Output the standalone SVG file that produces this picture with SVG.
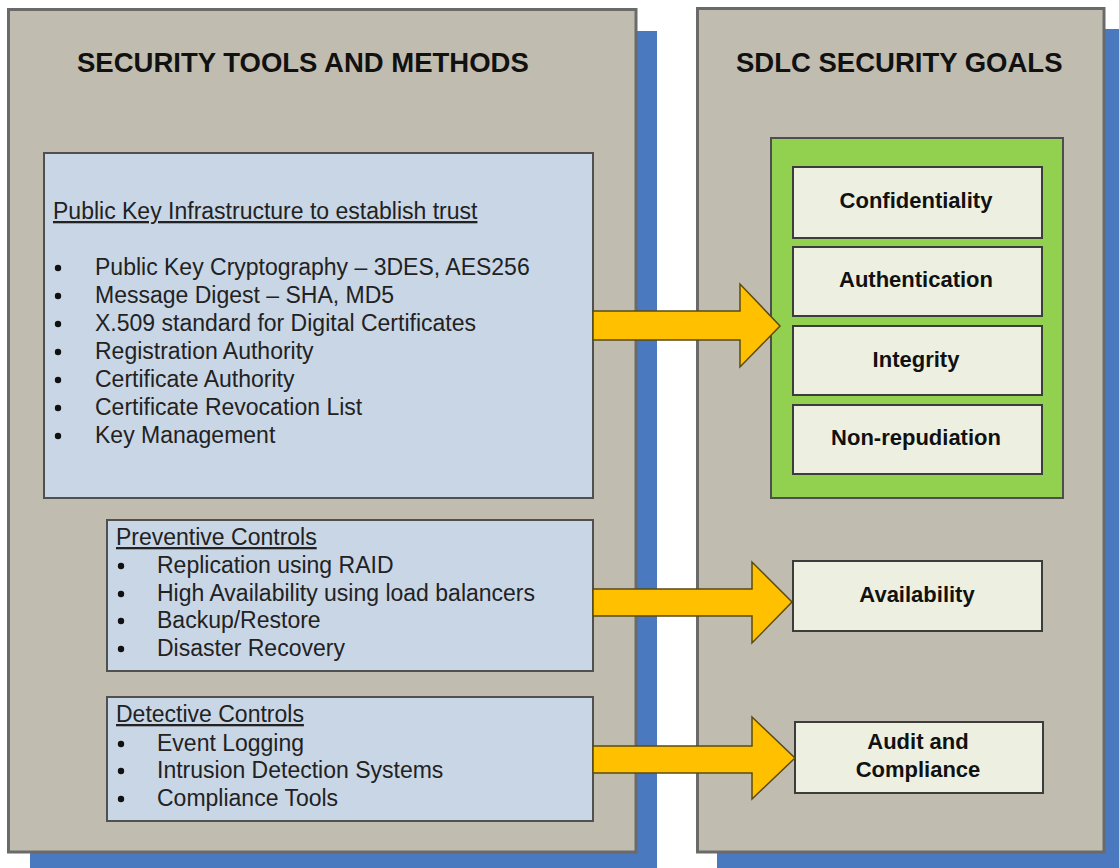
<svg xmlns="http://www.w3.org/2000/svg" width="1119" height="868" viewBox="0 0 1119 868">
<defs>
<style>
.shadow{fill:#4A79C0}
.panel{fill:#C0BDB0;stroke:#6A6A6A;stroke-width:3}
.tbox{fill:#C9D6E6;stroke:#505050;stroke-width:2}
.green{fill:#92D050;stroke:#4E4E4E;stroke-width:2}
.goal{fill:#EDF0E0;stroke:#3C3C3C;stroke-width:2}
.arrow{fill:#FFC000;stroke:#5A4A10;stroke-width:1.5;stroke-linejoin:miter}
.title{font-family:"Liberation Sans",Arial,sans-serif;font-weight:bold;font-size:27.5px;fill:#111}
.body{font-family:"Liberation Sans",Arial,sans-serif;font-size:23px;fill:#222}
.hdr{text-decoration:underline}
.gtxt{font-family:"Liberation Sans",Arial,sans-serif;font-weight:bold;font-size:22px;fill:#111;text-anchor:middle}
.dot{fill:#111}
</style>
</defs>
<rect width="1119" height="868" fill="#FFFFFF"/>

<g id="left-panel">
<rect class="shadow" x="30" y="31" width="627" height="840"/>
<rect class="panel" x="8.5" y="9.5" width="627.5" height="842.5"/>
<text class="title" x="77" y="72">SECURITY TOOLS AND METHODS</text>
</g>

<g id="right-panel">
<rect class="shadow" x="717" y="29" width="405" height="842"/>
<rect class="panel" x="697.5" y="8.5" width="406.5" height="843.5"/>
<text class="title" x="736" y="72">SDLC SECURITY GOALS</text>
</g>

<g id="pki">
<rect class="tbox" x="44" y="153" width="549" height="345"/>
<text class="body hdr" x="53" y="219">Public Key Infrastructure to establish trust</text>
<circle class="dot" cx="58" cy="268" r="3.2"/>
<circle class="dot" cx="58" cy="296" r="3.2"/>
<circle class="dot" cx="58" cy="324" r="3.2"/>
<circle class="dot" cx="58" cy="352" r="3.2"/>
<circle class="dot" cx="58" cy="380" r="3.2"/>
<circle class="dot" cx="58" cy="408" r="3.2"/>
<circle class="dot" cx="58" cy="436" r="3.2"/>
<text class="body" x="95" y="275">Public Key Cryptography – 3DES, AES256</text>
<text class="body" x="95" y="303">Message Digest – SHA, MD5</text>
<text class="body" x="95" y="331">X.509 standard for Digital Certificates</text>
<text class="body" x="95" y="359">Registration Authority</text>
<text class="body" x="95" y="387">Certificate Authority</text>
<text class="body" x="95" y="415">Certificate Revocation List</text>
<text class="body" x="95" y="443">Key Management</text>
</g>

<g id="preventive">
<rect class="tbox" x="107" y="520" width="486" height="151"/>
<text class="body hdr" x="116" y="545">Preventive Controls</text>
<circle class="dot" cx="121" cy="566" r="3.2"/>
<circle class="dot" cx="121" cy="594" r="3.2"/>
<circle class="dot" cx="121" cy="621" r="3.2"/>
<circle class="dot" cx="121" cy="649" r="3.2"/>
<text class="body" x="157" y="573">Replication using RAID</text>
<text class="body" x="157" y="601">High Availability using load balancers</text>
<text class="body" x="157" y="628">Backup/Restore</text>
<text class="body" x="157" y="656">Disaster Recovery</text>
</g>

<g id="detective">
<rect class="tbox" x="107" y="697" width="486" height="124"/>
<text class="body hdr" x="116" y="722">Detective Controls</text>
<circle class="dot" cx="121" cy="744" r="3.2"/>
<circle class="dot" cx="121" cy="771" r="3.2"/>
<circle class="dot" cx="121" cy="799" r="3.2"/>
<text class="body" x="157" y="751">Event Logging</text>
<text class="body" x="157" y="778">Intrusion Detection Systems</text>
<text class="body" x="157" y="806">Compliance Tools</text>
</g>

<g id="goal-group">
<rect class="green" x="771" y="138" width="292" height="360"/>
</g>
<g id="confidentiality">
<rect class="goal" x="793" y="167" width="249" height="71"/>
<text class="gtxt" x="916" y="208">Confidentiality</text>
</g>
<g id="authentication">
<rect class="goal" x="793" y="247" width="249" height="69"/>
<text class="gtxt" x="916" y="287">Authentication</text>
</g>
<g id="integrity">
<rect class="goal" x="793" y="326" width="249" height="69"/>
<text class="gtxt" x="916" y="367">Integrity</text>
</g>
<g id="non-repudiation">
<rect class="goal" x="793" y="405" width="249" height="69"/>
<text class="gtxt" x="916" y="445">Non-repudiation</text>
</g>
<g id="availability">
<rect class="goal" x="793" y="561" width="249" height="70"/>
<text class="gtxt" x="917" y="602">Availability</text>
</g>
<g id="audit">
<rect class="goal" x="795" y="722" width="248" height="71"/>
<text class="gtxt" x="918" y="749">Audit and</text>
<text class="gtxt" x="918" y="777">Compliance</text>
</g>

<g id="connectors">
<polygon class="arrow" points="593,311 740,311 740,284 780,326 740,367 740,340 593,340"/>
<polygon class="arrow" points="593,589 752,589 752,562 792,602 752,643 752,616 593,616"/>
<polygon class="arrow" points="593,746 752,746 752,717 795,758 752,799 752,773 593,773"/>
</g>
</svg>
